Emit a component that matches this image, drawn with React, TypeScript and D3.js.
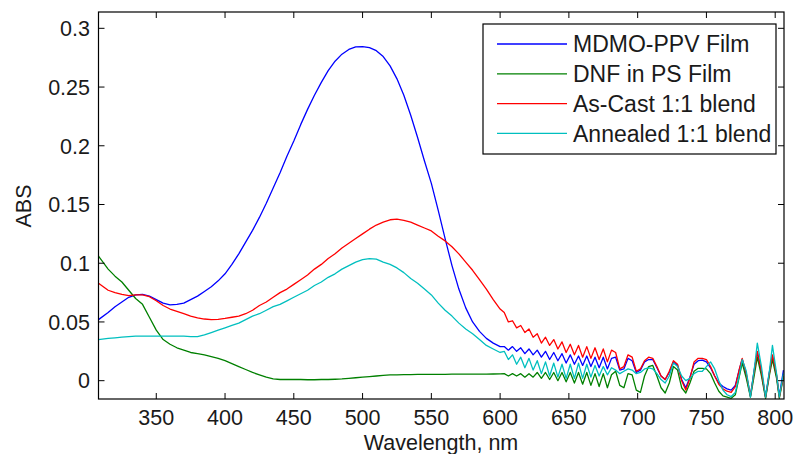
import React from "react";
import * as d3 from "d3";

const wavelength = [
  308, 315, 320, 325, 330, 335, 340, 345, 350, 355, 360, 365, 370, 375, 380, 385, 390, 395, 400, 405,
  410, 415, 420, 425, 430, 435, 440, 445, 450, 455, 460, 465, 470, 475, 480, 485, 490, 495, 500, 505,
  510, 515, 520, 525, 530, 535, 540, 545, 550, 555, 560, 565, 570, 575, 580, 585, 590, 595, 600,
  603, 606, 609, 612, 615, 618, 621, 624, 627, 630, 633, 636, 639, 642, 645, 648, 651, 654, 657, 660,
  663, 666, 669, 672, 675, 678, 681, 684, 687, 690, 693, 696, 699, 702, 705, 708, 711, 714, 717, 720,
  723, 726, 729, 732, 735, 738, 741, 744, 747, 750, 753, 756, 759, 762, 765, 768, 771,
  774, 776, 779, 782, 785, 787, 790, 793, 796, 798, 801, 803, 806,
];

const mdmoPPV = [
  0.052, 0.058, 0.063, 0.067, 0.071, 0.073, 0.0735, 0.072, 0.069, 0.066, 0.0645, 0.065, 0.066, 0.069, 0.072, 0.076, 0.08, 0.085, 0.091, 0.099,
  0.108, 0.118, 0.128, 0.139, 0.151, 0.164, 0.177, 0.191, 0.204, 0.218, 0.231, 0.243, 0.254, 0.264, 0.272, 0.278, 0.282, 0.2842, 0.2845, 0.2835,
  0.281, 0.276, 0.268, 0.257, 0.243, 0.226, 0.207, 0.187, 0.168, 0.145, 0.121, 0.098, 0.078, 0.062, 0.05, 0.042, 0.036, 0.032, 0.029,
  0.029, 0.026, 0.029, 0.025, 0.028, 0.023, 0.027, 0.022, 0.026, 0.02, 0.025, 0.018, 0.024, 0.017, 0.023, 0.015, 0.022, 0.014, 0.021, 0.013,
  0.021, 0.012, 0.02, 0.011, 0.02, 0.01, 0.019, 0.02, 0.009, 0.01, 0.019, 0.017, 0.007, 0.009, 0.016, 0.018, 0.018, 0.011, 0.004, 0.001,
  0.007, 0.016, 0.013, 0.001, -0.006, 0.003, 0.014, 0.017, 0.0175, 0.016, 0.011, 0.004, -0.002, -0.005, -0.007, -0.008, -0.004,
  0.01, 0.018, 0.005, -0.013, 0.011, 0.024, 0.007, -0.014, 0.009, 0.021, 0.004, -0.013, 0.009,
];

const dnfPS = [
  0.106, 0.095, 0.089, 0.084, 0.077, 0.07, 0.065, 0.054, 0.043, 0.035, 0.031, 0.028, 0.026, 0.024, 0.023, 0.022, 0.0205, 0.019, 0.017, 0.0145,
  0.012, 0.0095, 0.007, 0.005, 0.003, 0.0015, 0.001, 0.001, 0.001, 0.001, 0.0008, 0.0008, 0.001, 0.001, 0.0012, 0.0015, 0.002, 0.0025, 0.003, 0.0035,
  0.004, 0.0045, 0.005, 0.005, 0.0052, 0.0052, 0.0053, 0.0053, 0.0053, 0.0054, 0.0054, 0.0055, 0.0055, 0.0055, 0.0055, 0.0056, 0.0056, 0.0057, 0.0058,
  0.006, 0.004, 0.006, 0.004, 0.006, 0.003, 0.006, 0.003, 0.007, 0.002, 0.007, 0.001, 0.007, 0.0, 0.007, -0.001, 0.007, -0.002, 0.007, -0.003,
  0.007, -0.004, 0.006, -0.005, 0.006, -0.006, 0.005, 0.008, -0.004, -0.006, 0.006, 0.005, -0.008, -0.01, 0.004, 0.012, 0.013, 0.004, -0.006, -0.0105,
  -0.002, 0.012, 0.009, -0.006, -0.0105, -0.002, 0.008, 0.0105, 0.0105, 0.01, 0.006, -0.002, -0.009, -0.013, -0.014, -0.015, -0.012,
  0.004, 0.015, 0.002, -0.014, 0.006, 0.02, 0.004, -0.015, 0.006, 0.018, 0.002, -0.015, 0.003,
];

const asCast = [
  0.083, 0.077, 0.075, 0.0735, 0.0725, 0.073, 0.073, 0.0715, 0.068, 0.064, 0.061, 0.059, 0.057, 0.055, 0.0535, 0.0525, 0.052, 0.0522, 0.053, 0.054,
  0.055, 0.057, 0.06, 0.064, 0.067, 0.071, 0.075, 0.078, 0.082, 0.086, 0.09, 0.095, 0.099, 0.104, 0.108, 0.113, 0.117, 0.121, 0.125, 0.129,
  0.1325, 0.135, 0.137, 0.1375, 0.1365, 0.135, 0.1325, 0.13, 0.1275, 0.123, 0.119, 0.114, 0.108, 0.101, 0.094, 0.086, 0.078, 0.069, 0.061,
  0.058, 0.05, 0.051, 0.045, 0.047, 0.041, 0.044, 0.037, 0.04, 0.032, 0.037, 0.03, 0.035, 0.027, 0.033, 0.024, 0.031, 0.022, 0.03, 0.02,
  0.029, 0.019, 0.028, 0.018, 0.027, 0.016, 0.026, 0.024, 0.01, 0.012, 0.022, 0.02, 0.008, 0.01, 0.017, 0.02, 0.019, 0.012, 0.004, 0.001,
  0.008, 0.017, 0.014, 0.0, -0.008, 0.002, 0.016, 0.019, 0.019, 0.018, 0.012, 0.004, -0.003, -0.007, -0.009, -0.01, -0.005,
  0.01, 0.019, 0.006, -0.013, 0.01, 0.025, 0.008, -0.014, 0.008, 0.022, 0.005, -0.014, 0.004,
];

const annealed = [
  0.035, 0.036, 0.0365, 0.037, 0.0375, 0.038, 0.038, 0.038, 0.038, 0.038, 0.038, 0.038, 0.038, 0.0375, 0.0375, 0.039, 0.041, 0.043, 0.045, 0.047,
  0.049, 0.052, 0.055, 0.057, 0.06, 0.063, 0.065, 0.068, 0.071, 0.074, 0.077, 0.081, 0.084, 0.088, 0.091, 0.095, 0.098, 0.101, 0.103, 0.104,
  0.1035, 0.101, 0.099, 0.096, 0.092, 0.087, 0.083, 0.078, 0.073, 0.066, 0.06, 0.055, 0.049, 0.044, 0.04, 0.035, 0.03, 0.027, 0.024,
  0.025, 0.018, 0.022, 0.014, 0.02, 0.011, 0.019, 0.009, 0.017, 0.006, 0.016, 0.004, 0.015, 0.003, 0.014, 0.002, 0.014, 0.002, 0.015, 0.002,
  0.014, 0.003, 0.013, 0.004, 0.012, 0.005, 0.011, 0.009, 0.006, 0.008, 0.01, 0.009, 0.006, 0.007, 0.01, 0.011, 0.01, 0.006, 0.001, -0.002,
  0.004, 0.015, 0.012, 0.004, 0.0, 0.002, 0.006, 0.008, 0.008, 0.012, 0.016, 0.01, 0.0, -0.008, -0.012, -0.0135, -0.01,
  0.005, 0.018, 0.008, -0.014, 0.012, 0.032, 0.012, -0.014, 0.01, 0.03, 0.006, -0.014, 0.006,
];

const seriesNames = ["MDMO-PPV Film", "DNF in PS Film", "As-Cast 1:1 blend", "Annealed 1:1 blend"];
const seriesColors = ["#0000ff", "#008000", "#ff0000", "#00bfbf"];
const seriesValues = [mdmoPPV, dnfPS, asCast, annealed];

const xTicks = [350, 400, 450, 500, 550, 600, 650, 700, 750, 800];
const yTicks = [0, 0.05, 0.1, 0.15, 0.2, 0.25, 0.3];
const yTickLabels = ["0", "0.05", "0.1", "0.15", "0.2", "0.25", "0.3"];

const W = 796;
const H = 454;
const M = { left: 98.5, right: 784, top: 12, bottom: 399 };
const FONT = "'Liberation Sans', Arial, Helvetica, sans-serif";

export default function App() {
  const x = d3.scaleLinear().domain([308, 806.4]).range([M.left, M.right]);
  const y = d3.scaleLinear().domain([-0.0156, 0.3139]).range([M.bottom, M.top]);
  const line = d3
    .line<number>()
    .x((_, i) => x(wavelength[i]))
    .y((d) => y(d));

  const tickLen = 6;
  const legend = { x0: 483, y0: 24, x1: 776, y1: 154 };

  return (
    <svg
      width={W}
      height={H}
      style={{ position: "absolute", left: 0, top: 0, background: "#fff" }}
      fontFamily={FONT}
    >
      <defs>
        <clipPath id="plotClip">
          <rect x={M.left} y={M.top} width={M.right - M.left} height={M.bottom - M.top} />
        </clipPath>
      </defs>
      <rect x={0} y={0} width={W} height={H} fill="#fff" />
      <g clipPath="url(#plotClip)">
        {seriesValues.map((vals, k) => (
          <path
            key={k}
            d={line(vals) || ""}
            fill="none"
            stroke={seriesColors[k]}
            strokeWidth={1.3}
            strokeLinejoin="round"
          />
        ))}
      </g>
      <rect
        x={M.left}
        y={M.top}
        width={M.right - M.left}
        height={M.bottom - M.top}
        fill="none"
        stroke="#000"
        strokeWidth={1.2}
      />
      {xTicks.map((t) => (
        <g key={"x" + t}>
          <line x1={x(t)} x2={x(t)} y1={M.bottom} y2={M.bottom - tickLen} stroke="#000" strokeWidth={1} />
          <line x1={x(t)} x2={x(t)} y1={M.top} y2={M.top + tickLen} stroke="#000" strokeWidth={1} />
          <text x={x(t)} y={424.5} textAnchor="middle" fontSize={21.5} fill="#1a1a1a">
            {t}
          </text>
        </g>
      ))}
      {yTicks.map((t, i) => (
        <g key={"y" + t}>
          <line x1={M.left} x2={M.left + tickLen} y1={y(t)} y2={y(t)} stroke="#000" strokeWidth={1} />
          <line x1={M.right} x2={M.right - tickLen} y1={y(t)} y2={y(t)} stroke="#000" strokeWidth={1} />
          <text x={90} y={y(t)} dy="0.36em" textAnchor="end" fontSize={21.5} fill="#1a1a1a">
            {yTickLabels[i]}
          </text>
        </g>
      ))}
      <text x={441} y={450} textAnchor="middle" fontSize={21.5} fill="#1a1a1a">
        Wavelength, nm
      </text>
      <text
        transform={`translate(31,206) rotate(-90)`}
        textAnchor="middle"
        fontSize={21.5}
        fill="#1a1a1a"
      >
        ABS
      </text>
      <rect
        x={legend.x0}
        y={legend.y0}
        width={legend.x1 - legend.x0}
        height={legend.y1 - legend.y0}
        fill="#fff"
        stroke="#000"
        strokeWidth={1.2}
      />
      {seriesNames.map((name, k) => {
        const cy = 44 + k * 29.8;
        return (
          <g key={name}>
            <line x1={497} x2={567} y1={cy} y2={cy} stroke={seriesColors[k]} strokeWidth={1.3} />
            <text x={573} y={cy} dy="0.36em" fontSize={23} fill="#1a1a1a">
              {name}
            </text>
          </g>
        );
      })}
    </svg>
  );
}
